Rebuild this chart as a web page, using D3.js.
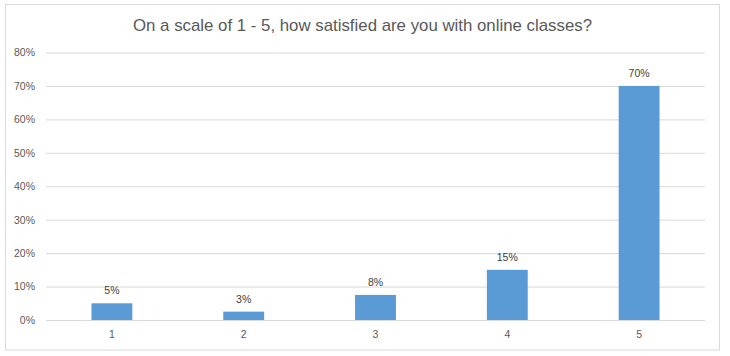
<!DOCTYPE html>
<html>
<head>
<meta charset="utf-8">
<script src="https://cdn.jsdelivr.net/npm/d3@7"></script>
<style>
  html, body { margin: 0; padding: 0; background: #fff; }
  svg { display: block; }
</style>
</head>
<body>
<svg id="chart" width="730" height="356"></svg>
<script>
const categories = ["1", "2", "3", "4", "5"];
const values = [0.05, 0.025, 0.075, 0.15, 0.70];
const valueLabels = ["5%", "3%", "8%", "15%", "70%"];
const yTicks = [0, 0.1, 0.2, 0.3, 0.4, 0.5, 0.6, 0.7, 0.8];
const title = "On a scale of 1 - 5, how satisfied are you with online classes?";

const svg = d3.select("#chart");
const font = "'Liberation Sans', Arial, sans-serif";
const textColor = "#595959";
const gridColor = "#d9d9d9";

svg.append("rect")
  .attr("x", 5.5).attr("y", 4.5)
  .attr("width", 714).attr("height", 345.5)
  .attr("fill", "#fff").attr("stroke", gridColor).attr("stroke-width", 1);

const x = d3.scaleBand().domain(categories).range([46, 705]).paddingInner(0.69).paddingOuter(0.345);
const y = d3.scaleLinear().domain([0, 0.8]).range([320, 52.5]);

svg.append("text")
  .attr("x", 362.5).attr("y", 31)
  .attr("text-anchor", "middle")
  .attr("font-family", font).attr("font-size", 17)
  .attr("fill", textColor)
  .attr("textLength", 459).attr("lengthAdjust", "spacingAndGlyphs")
  .text(title);

const yAxis = d3.axisLeft(y).tickValues(yTicks).tickFormat(d3.format(".0%")).tickSize(-(705 - 46)).tickPadding(11);
const gy = svg.append("g").attr("transform", "translate(46,0)").call(yAxis);
gy.select(".domain").remove();
gy.selectAll(".tick line").attr("stroke", gridColor).attr("stroke-width", 1);
gy.selectAll(".tick text").attr("font-family", font).attr("font-size", 10.5).attr("fill", textColor);

const xAxis = d3.axisBottom(x).tickSize(0).tickPadding(11);
const gx = svg.append("g").attr("transform", "translate(0,320)").call(xAxis);
gx.select(".domain").remove();
gx.selectAll(".tick text").attr("font-family", font).attr("font-size", 10.5).attr("fill", textColor);

svg.append("g").selectAll("rect").data(values).join("rect")
  .attr("x", (d, i) => x(categories[i]))
  .attr("y", d => y(d))
  .attr("width", x.bandwidth())
  .attr("height", d => y(0) - y(d))
  .attr("fill", "#5b9bd5");

svg.append("line")
  .attr("x1", 46).attr("x2", 705).attr("y1", y(0) + 0.5).attr("y2", y(0) + 0.5)
  .attr("stroke", gridColor);

svg.append("g").selectAll("text").data(values).join("text")
  .attr("x", (d, i) => x(categories[i]) + x.bandwidth() / 2)
  .attr("y", d => y(d) - 9)
  .attr("text-anchor", "middle")
  .attr("font-family", font).attr("font-size", 10.5)
  .attr("fill", "#404040")
  .text((d, i) => valueLabels[i]);
</script>
</body>
</html>
